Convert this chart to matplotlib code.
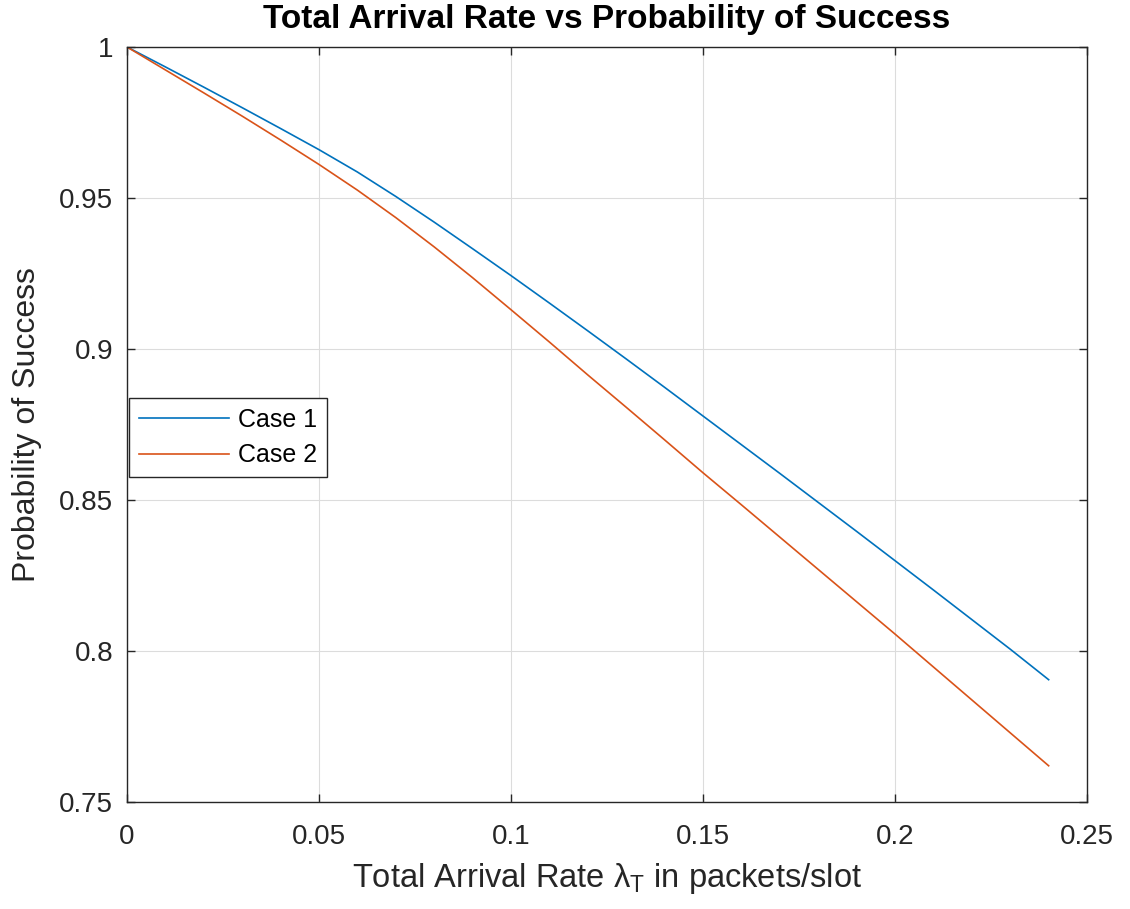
import matplotlib
matplotlib.use('Agg')
import matplotlib.pyplot as plt
from matplotlib.ticker import FuncFormatter
import numpy as np

plt.rcParams['font.family'] = ['Liberation Sans', 'DejaVu Sans']
plt.rcParams['mathtext.fontset'] = 'custom'
plt.rcParams['mathtext.rm'] = 'Liberation Sans'
plt.rcParams['mathtext.it'] = 'Liberation Sans:italic'

# values
lam = [0.00, 0.01, 0.02, 0.03, 0.04, 0.05, 0.06, 0.07, 0.08, 0.09, 0.10, 0.11, 0.12,
       0.13, 0.14, 0.15, 0.16, 0.17, 0.18, 0.19, 0.20, 0.21, 0.22, 0.23, 0.24]
case1 = [1.0000, 0.9934, 0.9867, 0.9799, 0.9730, 0.9660, 0.9586, 0.9505, 0.9420, 0.9332,
         0.9243, 0.9152, 0.9060, 0.8967, 0.8873, 0.8778, 0.8683, 0.8588, 0.8492, 0.8396,
         0.8299, 0.8202, 0.8104, 0.8006, 0.7905]
case2 = [1.0000, 0.9924, 0.9848, 0.9771, 0.9692, 0.9611, 0.9526, 0.9435, 0.9338, 0.9236,
         0.9130, 0.9023, 0.8914, 0.8807, 0.8699, 0.8590, 0.8484, 0.8377, 0.8270, 0.8163,
         0.8056, 0.7947, 0.7838, 0.7729, 0.7620]

xticks = [0, 0.05, 0.1, 0.15, 0.2, 0.25]
yticks = [0.75, 0.8, 0.85, 0.9, 0.95, 1]

fig = plt.figure(figsize=(11.3, 9.09), dpi=100)
ax = fig.add_axes([0.1124, 0.1177, 0.8496, 0.8306])

ax.plot(lam, case1, color='#0072BD', lw=1.2, label='Case 1')
ax.plot(lam, case2, color='#D95319', lw=1.2, label='Case 2')

ax.set_xlim(0, 0.25)
ax.set_ylim(0.75, 1)
ax.set_xticks(xticks)
ax.set_yticks(yticks)
fmt = FuncFormatter(lambda v, p: '%g' % v)
ax.xaxis.set_major_formatter(fmt)
ax.yaxis.set_major_formatter(fmt)
ax.tick_params(direction='in', top=True, right=True, labelsize=20, colors='#262626',
               length=6, width=1)
ax.tick_params(axis='x', pad=16)
ax.tick_params(axis='y', pad=10)
for s in ax.spines.values():
    s.set_color('#262626')
    s.set_linewidth(1.0)
ax.grid(True, color='#dcdcdc', lw=0.8)
ax.set_axisbelow(True)

ax.set_title('Total Arrival Rate vs Probability of Success', fontsize=24, fontweight='bold',
             color='black', pad=14)
ax.set_xlabel('Total Arrival Rate λ$_\\mathrm{T}$ in packets/slot', fontsize=23.5,
              color='#262626', labelpad=8)
ax.set_ylabel('Probability of Success', fontsize=23, color='#262626', labelpad=12)

leg = ax.legend(loc='upper left', bbox_to_anchor=(0.002, 0.535), fontsize=18, fancybox=False,
                framealpha=1, edgecolor='#262626', handlelength=3.6, borderaxespad=0,
                handletextpad=0.35, labelspacing=0.45, borderpad=0.4)
leg.get_frame().set_linewidth(1.0)

fig.savefig('out.png', dpi=100)
